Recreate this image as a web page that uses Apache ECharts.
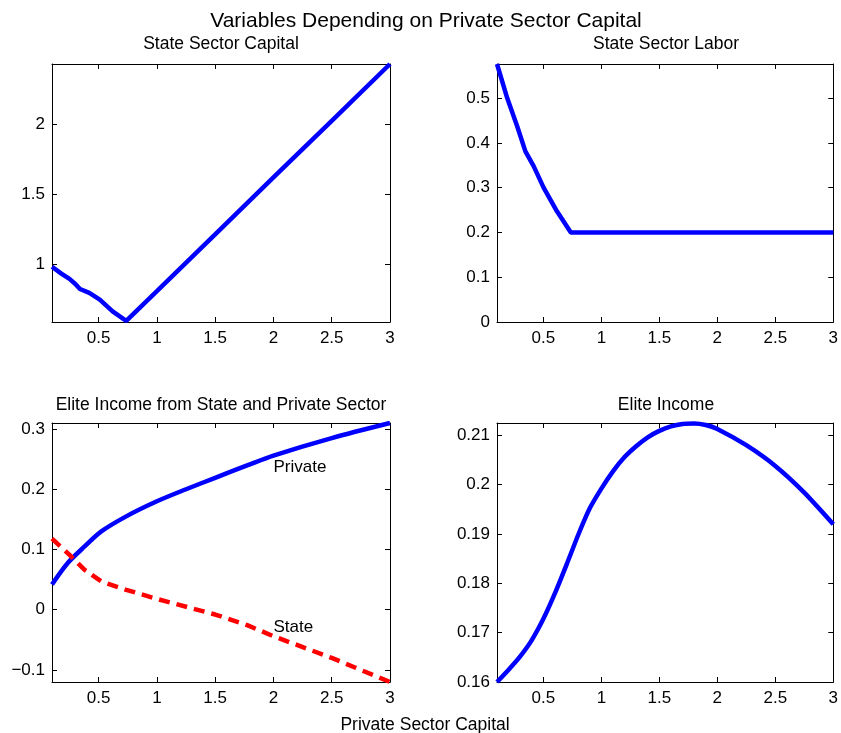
<!DOCTYPE html>
<html>
<head>
<meta charset="utf-8">
<script src="https://cdn.jsdelivr.net/npm/echarts@6/dist/echarts.min.js"></script>
<style>
  html, body { margin: 0; padding: 0; background: #fff; }
  #chart { width: 841px; height: 733px; }
</style>
</head>
<body>
<div id="chart"></div>
<script>
// values
const stateCapX = [0.1, 0.18, 0.25, 0.3, 0.34, 0.42, 0.51, 0.62, 0.737, 1, 1.5, 2, 2.5, 3];
const stateCapY = [0.985, 0.936, 0.898, 0.862, 0.826, 0.798, 0.75, 0.666, 0.598, 0.811, 1.217, 1.623, 2.028, 2.434];

const stateLaborX = [0.1, 0.188, 0.274, 0.345, 0.416, 0.502, 0.617, 0.737, 1, 1.5, 2, 2.5, 3];
const stateLaborY = [0.576, 0.5, 0.437, 0.381, 0.348, 0.3, 0.247, 0.2, 0.2, 0.2, 0.2, 0.2, 0.2];

const privateIncX = [0.1, 0.237, 0.38, 0.523, 0.737, 1, 1.25, 1.5, 1.78, 2, 2.5, 3];
const privateIncY = [0.042, 0.078, 0.105, 0.13, 0.155, 0.18, 0.2, 0.219, 0.24, 0.256, 0.285, 0.31];

const stateIncX = [0.1, 0.25, 0.38, 0.523, 0.737, 1, 1.5, 1.78, 2, 2.5, 3];
const stateIncY = [0.118, 0.091, 0.066, 0.047, 0.033, 0.018, -0.008, -0.026, -0.044, -0.08, -0.12];

const eliteIncX = [0.1, 0.2, 0.3, 0.4, 0.5, 0.6, 0.7, 0.8, 0.9, 1, 1.1, 1.2, 1.3, 1.4, 1.5, 1.6, 1.7, 1.8, 1.9, 2, 2.25, 2.5, 2.75, 3];
const eliteIncY = [0.16, 0.1625, 0.1652, 0.1685, 0.1728, 0.178, 0.1838, 0.1898, 0.1952, 0.1992, 0.2027, 0.2056, 0.2078, 0.2096, 0.2109, 0.2118, 0.2123, 0.2124, 0.2121, 0.2113, 0.208, 0.2038, 0.1984, 0.192];

const annoText = ["Private", "State"];
const annoX = [2, 2];
const annoY = [0.237, -0.029];

const xTicks = [0.5, 1, 1.5, 2, 2.5, 3];
const capTicks = [1, 1.5, 2];
const laborTicks = [0, 0.1, 0.2, 0.3, 0.4, 0.5];
const incTicks = [-0.1, 0, 0.1, 0.2, 0.3];
const eliteTicks = [0.16, 0.17, 0.18, 0.19, 0.2, 0.21];

const FONT = "Liberation Sans, Arial, Helvetica, sans-serif";
const BLUE = "#0000ff";
const RED = "#ff0000";

const pairs = (xs, ys) => xs.map((x, i) => [x, ys[i]]);
const fmt = (v) => String(v).replace("-", "\u2212");

// plot boxes (matlab subplot positions)
const grids = [
  { left: 52, top: 64, width: 338, height: 258 },
  { left: 497, top: 64, width: 338, height: 258 },
  { left: 52, top: 423, width: 338, height: 259 },
  { left: 497, top: 423, width: 338, height: 259 },
];
const yRanges = [
  [0.59, 2.434, capTicks],
  [0, 0.576, laborTicks],
  [-0.12, 0.31, incTicks],
  [0.16, 0.2125, eliteTicks],
];

function makeAxis(gi, position, min, max, ticks, withLabels, isX) {
  return {
    type: "value",
    gridIndex: gi,
    position: position,
    min: min,
    max: max,
    axisLine: { show: true, onZero: false, lineStyle: { color: "#000", width: 1 } },
    axisTick: { show: true, inside: true, length: 5, customValues: ticks, lineStyle: { color: "#000", width: 1 } },
    axisLabel: {
      show: withLabels,
      customValues: ticks,
      color: "#000",
      fontSize: 17,
      fontFamily: FONT,
      margin: isX ? 8 : 7,
      formatter: fmt,
    },
    splitLine: { show: false },
  };
}

const xAxis = [];
const yAxis = [];
grids.forEach((g, i) => {
  xAxis.push(makeAxis(i, "bottom", 0.1, 3, xTicks, true, true));
  xAxis.push(makeAxis(i, "top", 0.1, 3, xTicks, false, true));
  const r = yRanges[i];
  yAxis.push(makeAxis(i, "left", r[0], r[1], r[2], true, false));
  yAxis.push(makeAxis(i, "right", r[0], r[1], r[2], false, false));
});

function lineSeries(gi, data, color, dashed, smooth) {
  return {
    type: "line",
    xAxisIndex: gi * 2,
    yAxisIndex: gi * 2,
    data: data,
    symbol: "none",
    silent: true,
    animation: false,
    clip: true,
    smooth: smooth || false,
    lineStyle: { color: color, width: 4.5, type: dashed ? [11, 7] : "solid", cap: "butt" },
  };
}

const subTitle = (text, x, y, size) => ({
  text: text,
  left: x,
  top: y,
  padding: 0,
  textAlign: "center",
  textStyle: { fontFamily: FONT, fontSize: size, fontWeight: "normal", color: "#000" },
});

const option = {
  backgroundColor: "#fff",
  animation: false,
  title: [
    subTitle("Variables Depending on Private Sector Capital", 426, 11, 21),
    subTitle("State Sector Capital", 221, 35, 17.5),
    subTitle("State Sector Labor", 666, 35, 17.5),
    subTitle("Elite Income from State and Private Sector", 221, 396, 17.5),
    subTitle("Elite Income", 666, 396, 17.5),
    subTitle("Private Sector Capital", 425, 716, 17.5),
  ],
  grid: grids,
  xAxis: xAxis,
  yAxis: yAxis,
  series: [
    lineSeries(0, pairs(stateCapX, stateCapY), BLUE, false),
    lineSeries(1, pairs(stateLaborX, stateLaborY), BLUE, false),
    lineSeries(2, pairs(privateIncX, privateIncY), BLUE, false, 0.3),
    lineSeries(2, pairs(stateIncX, stateIncY), RED, true),
    lineSeries(3, pairs(eliteIncX, eliteIncY), BLUE, false, 0.2),
    {
      type: "scatter",
      xAxisIndex: 4,
      yAxisIndex: 4,
      symbolSize: 0,
      silent: true,
      itemStyle: { opacity: 1 },
      data: annoText.map((t, i) => ({ name: t, value: [annoX[i], annoY[i]] })),
      label: {
        show: true,
        position: "right",
        distance: 0,
        formatter: (p) => p.name,
        fontFamily: FONT,
        fontSize: 17,
        color: "#000",
        opacity: 1,
      },
    },
  ],
};

const myChart = echarts.init(document.getElementById("chart"));
myChart.setOption(option);
</script>
</body>
</html>
